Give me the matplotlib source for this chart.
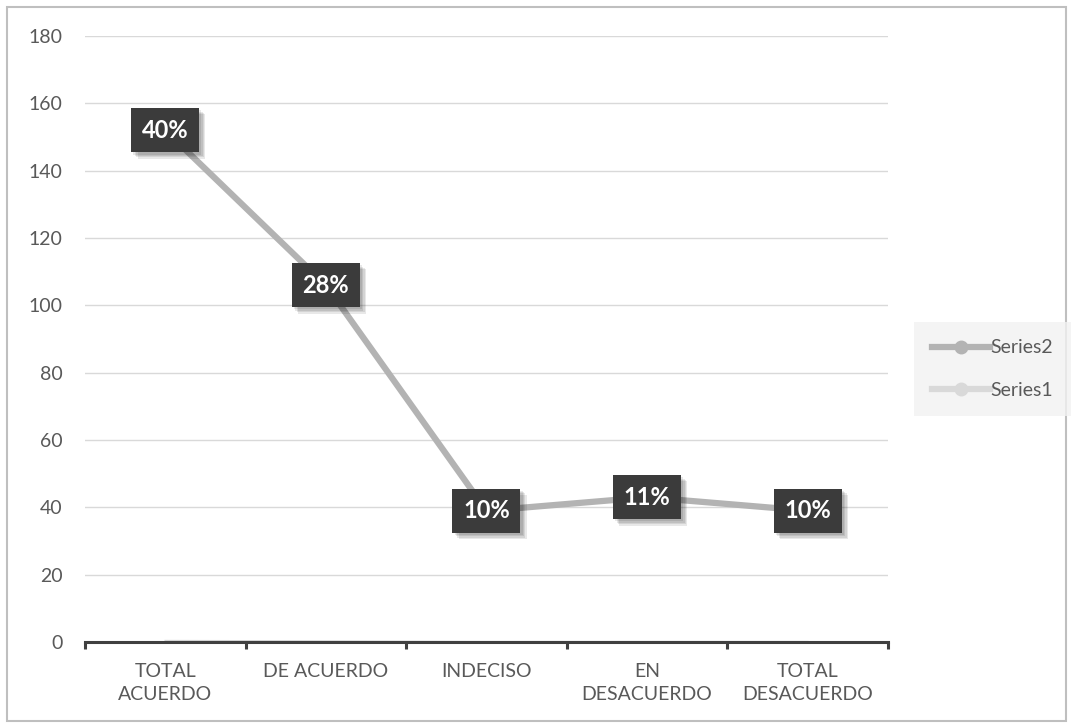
import matplotlib.pyplot as plt
import matplotlib.patheffects as pe
from matplotlib.patches import Rectangle
from matplotlib.lines import Line2D

plt.rcParams['font.family'] = ['Lato', 'DejaVu Sans']

# Respuestas por categoría
categorias = ['TOTAL\nACUERDO', 'DE ACUERDO', 'INDECISO', 'EN\nDESACUERDO', 'TOTAL\nDESACUERDO']
respuestas = [152, 106, 39, 43, 39]
total = sum(respuestas)
porcentajes = [r / total for r in respuestas]

x = list(range(len(categorias)))
gris2 = '#b3b3b3'
gris1 = '#d9d9d9'

fig = plt.figure(figsize=(10.73, 7.28), dpi=100)
ax = fig.add_axes([0.0792, 0.1181, 0.7484, 0.8324])

# borde exterior del gráfico
fig.patches.append(Rectangle((0.0065, 0.0096), 0.987, 0.981, transform=fig.transFigure,
                             fill=False, edgecolor='#bfbfbf', linewidth=1.5))

# Series1 (proporciones) queda tapada por el eje
ax.plot(x, porcentajes, color=gris1, linewidth=1.2, zorder=1)
ax.plot(x, respuestas, color=gris2, linewidth=4.5, marker='o', markersize=9, zorder=3)

# sombra difusa bajo las etiquetas
sombra = [pe.SimplePatchShadow(offset=(d, -d), shadow_rgbFace='black', alpha=0.09)
          for d in (1.5, 2.5, 3.5, 4.5)] + [pe.Normal()]
for xi, yi, p in zip(x, respuestas, porcentajes):
    t = ax.text(xi, yi, f'{p:.0%}', ha='center', va='center', color='white',
                fontsize=17, fontweight='bold', zorder=5,
                bbox=dict(boxstyle='square,pad=0.45', facecolor='#3b3b3b',
                          edgecolor='none'))
    t.get_bbox_patch().set_path_effects(sombra)

ax.set_xlim(-0.5, 4.5)
ax.set_ylim(0, 180)
ax.set_yticks(range(0, 181, 20))
ax.set_xticks(x)
ax.set_xticklabels(categorias, linespacing=1.45)
ax.set_xticks([i - 0.5 for i in range(len(categorias) + 1)], minor=True)

ax.grid(axis='y', color='#d9d9d9', linewidth=1)
ax.set_axisbelow(True)
for s in ['top', 'right', 'left']:
    ax.spines[s].set_visible(False)
ax.spines['bottom'].set_color('#404040')
ax.spines['bottom'].set_linewidth(2.2)
ax.spines['bottom'].set_zorder(4)

ax.tick_params(axis='y', length=0, pad=16, labelsize=14, labelcolor='#595959')
ax.tick_params(axis='x', which='major', length=0, pad=15, labelsize=14, labelcolor='#595959')
ax.tick_params(axis='x', which='minor', length=5, width=2.2, color='#404040')

handles = [Line2D([], [], color=gris2, linewidth=4.5, marker='o', markersize=9),
           Line2D([], [], color=gris1, linewidth=4.5, marker='o', markersize=9)]
leg = fig.legend(handles, ['Series2', 'Series1'], loc='center',
                 bbox_to_anchor=(0.8546, 0.4299, 0.1407, 0.1264),
                 frameon=True, fancybox=False, fontsize=14, labelcolor='#595959',
                 handlelength=3.0, handletextpad=0.05, labelspacing=1.3,
                 borderpad=0.9, borderaxespad=0)
leg.get_frame().set_facecolor('#f2f2f2')
leg.get_frame().set_edgecolor('none')

fig.savefig('out.png', dpi=100)
